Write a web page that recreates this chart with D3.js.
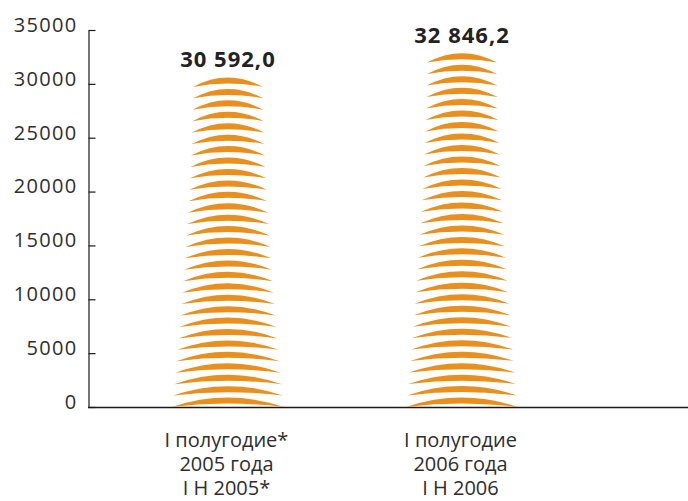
<!DOCTYPE html>
<html>
<head>
<meta charset="utf-8">
<script src="https://cdn.jsdelivr.net/npm/d3@7"></script>
<style>
  html, body { margin: 0; padding: 0; background: #fff; }
  svg { display: block; }
</style>
</head>
<body>
<svg id="chart" width="688" height="501"></svg>
<script>
const categories = ["I полугодие* 2005 года", "I полугодие 2006 года"];
const categoryLines = [
  ["I полугодие*", "2005 года", "I H 2005*"],
  ["I полугодие", "2006 года", "I H 2006"]
];
const values = [30592.0, 32846.2];
const valueLabels = ["30 592,0", "32 846,2"];
const yTicks = [0, 5000, 10000, 15000, 20000, 25000, 30000, 35000];
const crescentUnit = 1060; // value represented by one crescent (approx. read)

const W = 688, H = 501;
const svg = d3.select("#chart");
const orange = "#E88F1D";
const textCol = "#2e2e2e";

const y = d3.scaleLinear().domain([0, 35000]).range([407, 30]);
const x = d3.scalePoint().domain(categories).range([88, 688]).padding(0.782).align(0.3825);

// x axis baseline
svg.append("line")
  .attr("x1", 88).attr("x2", W)
  .attr("y1", y(0) + 0.5).attr("y2", y(0) + 0.5)
  .attr("stroke", "#1a1a1a").attr("stroke-width", 1.5);

// y axis
const yAxis = d3.axisLeft(y).tickValues(yTicks).tickSize(-7).tickSizeOuter(0).tickPadding(11).tickFormat(d3.format("d"));
const gy = svg.append("g").attr("transform", "translate(88.5,0)").call(yAxis);
gy.select(".domain").attr("stroke", "#1a1a1a").attr("stroke-width", 1.2);
gy.selectAll(".tick line").attr("stroke", "#1a1a1a").attr("stroke-width", 1.2);
gy.selectAll(".tick text")
  .attr("fill", "#2e2e2e")
  .attr("font-family", "'Open Sans', sans-serif")
  .attr("font-size", 20)
  .attr("letter-spacing", "1.3px")
  .attr("y", -5);

// crescent bars
const sagTop = 9.4, sagBot = 3.4;
values.forEach((v, i) => {
  const cx = x(categories[i]);
  const n = Math.round(v / crescentUnit);
  const topEnd = y(v) + sagTop;      // end-point level of top crescent
  const botEnd = y(0);
  const stepPx = (botEnd - topEnd) / (n - 1);
  const g = svg.append("g");
  for (let k = 0; k < n; k++) {
    const ye = botEnd - k * stepPx;
    const t = (botEnd - ye) / (botEnd - topEnd);
    const w = 70 + 42 * Math.pow(1 - t, 1.5);
    const h = w / 2;
    const p = d3.path();
    p.moveTo(cx - h, ye);
    p.quadraticCurveTo(cx, ye - 2 * sagTop, cx + h, ye);
    p.quadraticCurveTo(cx, ye - 2 * sagBot, cx - h, ye);
    p.closePath();
    g.append("path").attr("d", p.toString()).attr("fill", orange);
  }
  svg.append("text")
    .attr("x", cx).attr("y", y(v) - 10)
    .attr("text-anchor", "middle")
    .attr("font-family", "'Open Sans', sans-serif")
    .attr("font-weight", "bold")
    .attr("font-size", 22)
    .attr("letter-spacing", "1px")
    .attr("fill", "#222")
    .text(valueLabels[i]);

  const t = svg.append("text")
    .attr("text-anchor", "middle")
    .attr("font-family", "'Open Sans', sans-serif")
    .attr("font-size", 20)
    .attr("fill", textCol);
  categoryLines[i].forEach((line, j) => {
    t.append("tspan").attr("x", cx - 1.5).attr("y", 447 + j * 24).text(line);
  });
});
</script>
</body>
</html>
